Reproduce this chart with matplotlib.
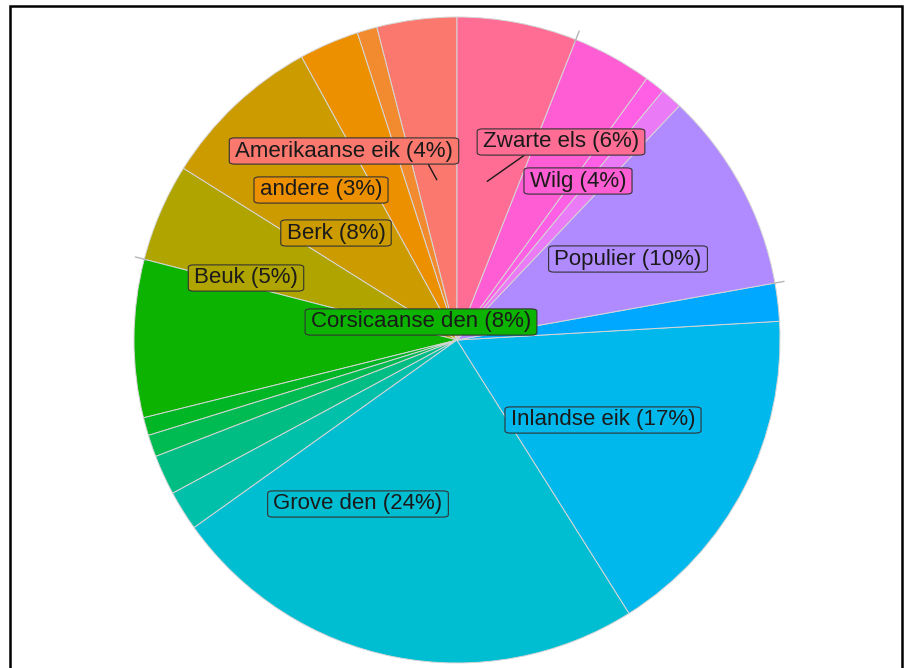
import numpy as np
import matplotlib.pyplot as plt
from matplotlib.patches import Rectangle

# boomsoorten, tegen de klok in vanaf 12 uur; kleine soorten zonder label
soorten = ["Amerikaanse eik", "", "andere", "Berk", "Beuk", "Corsicaanse den",
           "", "", "", "", "Grove den", "Inlandse eik", "", "Populier",
           "", "", "Wilg", "Zwarte els"]
aandeel = [4.0, 1.0, 3.0, 8.1, 4.9, 7.9,
           0.9, 1.1, 2.0, 2.0, 24.1, 17.0, 1.9, 10.1,
           1.1, 1.0, 4.0, 6.0]
kleuren = ["#fa786e", "#f28a30", "#ec9000", "#cc9b00", "#b0a400", "#0cb300",
           "#00b624", "#00ba52", "#00bd84", "#00c0aa", "#00bed2", "#00b8ec",
           "#00a9ff", "#b08aff", "#ea7af5", "#ff5fe4", "#ff5dd4", "#ff6c94"]

# labelposities (pixels, y van boven)
label_pos = {
    "Amerikaanse eik": (344, 151),
    "andere": (321, 190),
    "Berk": (336, 233),
    "Beuk": (246, 278),
    "Corsicaanse den": (421, 322),
    "Zwarte els": (561, 142),
    "Wilg": (578, 181),
    "Populier": (628, 259),
    "Inlandse eik": (603, 420),
    "Grove den": (358, 504),
}
# waar de verbindingslijn de labelrand raakt (relatief t.o.v. het kader)
met_lijn = {"Amerikaanse eik": (0.88, 0.0), "Zwarte els": (0.29, 0.0)}

W, H = 907, 668
cx, cy, R = 457, H - 340, 323

fig = plt.figure(figsize=(W / 100, H / 100), dpi=100)
ax = fig.add_axes([0, 0, 1, 1])
wedges, _ = ax.pie(aandeel, colors=kleuren, startangle=90, counterclock=True,
                   center=(cx, cy), radius=R,
                   wedgeprops=dict(edgecolor="#d6d6d6", linewidth=0.7))
ax.set_xlim(0, W)
ax.set_ylim(0, H)
ax.set_aspect("equal")
ax.axis("off")

totaal = sum(aandeel)
grens = 90 + 360 * np.cumsum(aandeel) / totaal

# korte grijze streepjes buiten de rand
for i in (4, 12, 16):
    t = np.radians(grens[i])
    ax.plot([cx + 0.99 * R * np.cos(t), cx + 1.03 * R * np.cos(t)],
            [cy + 0.99 * R * np.sin(t), cy + 1.03 * R * np.sin(t)],
            color="#b5b5b5", lw=1.0, solid_capstyle="butt")

for i, (naam, v) in enumerate(zip(soorten, aandeel)):
    if not naam:
        continue
    mid = np.radians(grens[i] - 180 * v / totaal)
    anker = (cx + 0.5 * R * np.cos(mid), cy + 0.5 * R * np.sin(mid))
    lx, ly = label_pos[naam]
    tekst = f"{naam} ({round(100 * v / totaal)}%)"
    pijl = None
    if naam in met_lijn:
        pijl = dict(arrowstyle="-", color="#1a1a1a", lw=1.0,
                    relpos=met_lijn[naam], shrinkA=0, shrinkB=0)
    ax.annotate(tekst, xy=anker, xytext=(lx, H - ly),
                ha="center", va="center", fontsize=16,
                family="Liberation Sans", color="#1a1a1a",
                arrowprops=pijl,
                bbox=dict(boxstyle="round,pad=0.26,rounding_size=0.25",
                          fc=kleuren[i], ec="#333333", lw=0.8,
                          mutation_aspect=0.45))

# kader om de figuur
fig.add_artist(Rectangle((9.5 / W, -0.05), 892.5 / W, 1.05 - 6.5 / H,
                         transform=fig.transFigure, fill=False,
                         ec="black", lw=1.8))

fig.savefig("out.png", dpi=100)
